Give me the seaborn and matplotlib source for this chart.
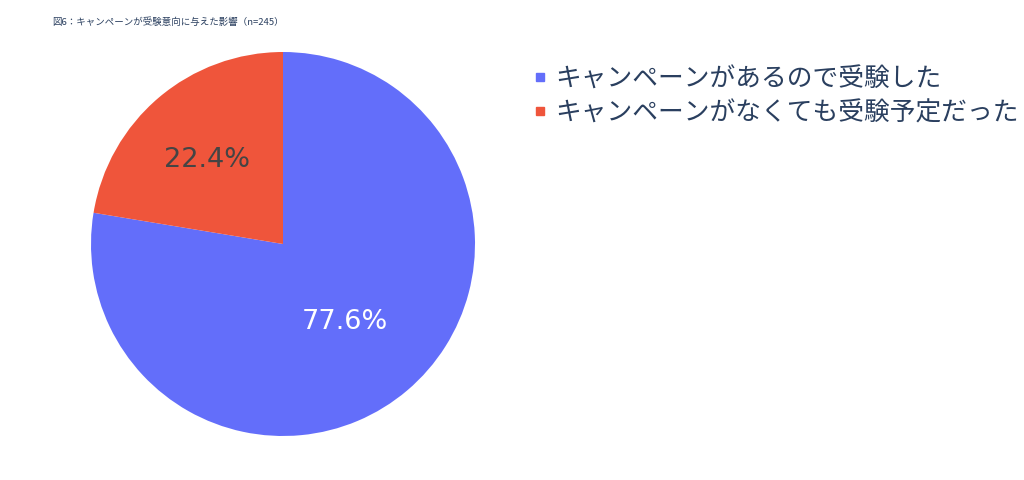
import numpy as np
import matplotlib
matplotlib.use("Agg")
import matplotlib.pyplot as plt
import seaborn as sns
from matplotlib.lines import Line2D

labels = ["キャンペーンがあるので受験した", "キャンペーンがなくても受験予定だった"]
values = [77.6, 22.4]
colors = ["#636EFA", "#EF553B"]
text_colors = ["white", "#444444"]
title = "図6：キャンペーンが受験意向に与えた影響（n=245）"

sns.set_style("white")
plt.rcParams['font.family'] = ['Noto Sans CJK JP', 'DejaVu Sans']

fig = plt.figure(figsize=(10.24, 4.81), dpi=100)
ax = fig.add_axes([(283 - 192) / 1024, (481 - 245 - 192) / 481, 384 / 1024, 384 / 481])

wedges, texts, autotexts = ax.pie(values, colors=colors, startangle=90, counterclock=False,
                                  autopct='%1.1f%%', pctdistance=0.55,
                                  wedgeprops=dict(linewidth=0))
ax.set_xlim(-1, 1)
ax.set_ylim(-1, 1)
ax.set_aspect('equal')

dists = [0.5, 0.61]
for w, t, d, c in zip(wedges, autotexts, dists, text_colors):
    mid = np.deg2rad((w.theta1 + w.theta2) / 2)
    x, y = d * np.cos(mid), d * np.sin(mid) - 0.02
    t.set_position((x, y))
    t.set_color(c)
    t.set_fontsize(19.5)
    t.set_family(['DejaVu Sans'])

handles = [Line2D([0], [0], marker='s', linestyle='', markersize=6, color=c) for c in colors]
fig.legend(handles, labels, loc='upper left', bbox_to_anchor=(504 / 1024, 1 - 44 / 481),
           frameon=False, fontsize=18.5, labelspacing=0.3, handletextpad=0.1,
           handlelength=1.0, labelcolor='#2a3f5f')

fig.text(52 / 1024, 1 - 22 / 481, title, fontsize=6.8, color='#2a3f5f', va='center')

fig.savefig("out.png", dpi=100)
